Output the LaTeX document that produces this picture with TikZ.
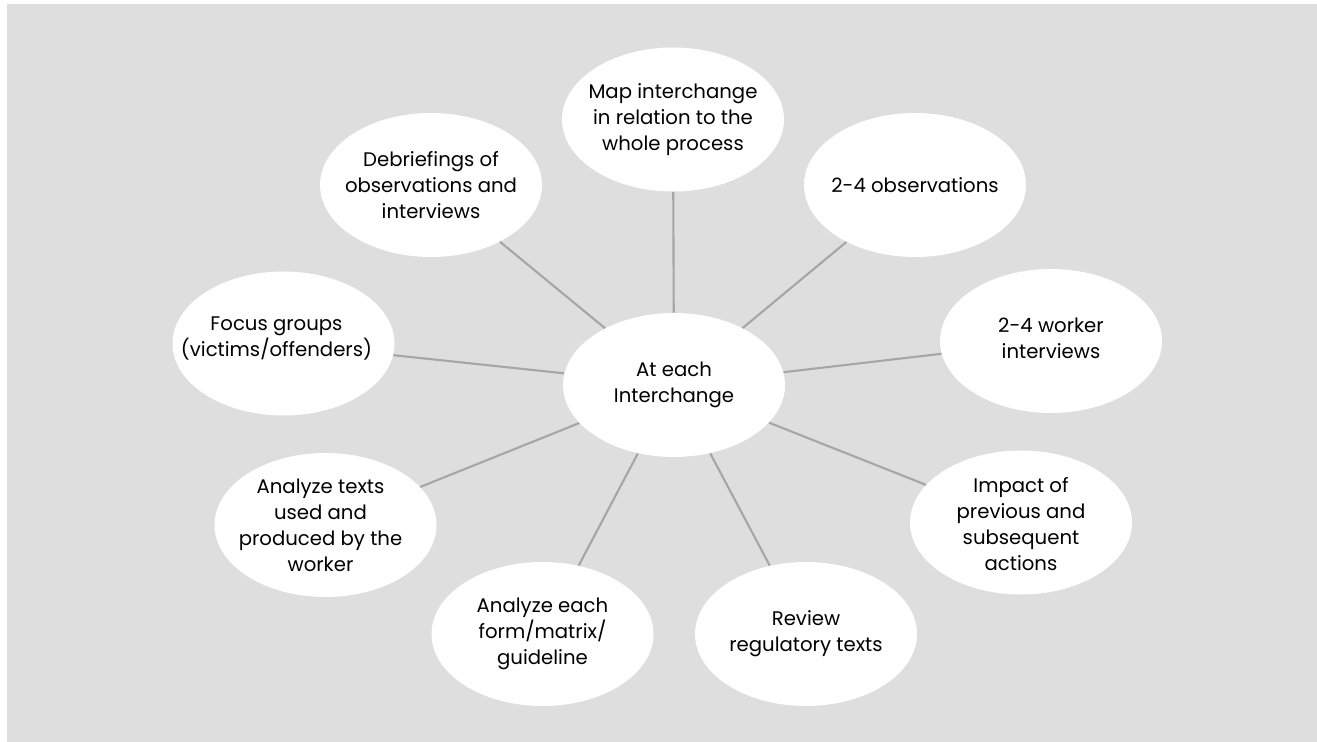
\documentclass[tikz,border=0pt]{standalone}
\usepackage{fontspec}
\setmainfont{Poppins}
\usetikzlibrary{shapes.geometric}
\definecolor{panelgray}{RGB}{222,222,222}
\definecolor{spokegray}{RGB}{166,166,166}
\tikzset{
  bubble/.style={ellipse,fill=white,minimum width=4.44cm,minimum height=2.88cm,inner sep=0pt},
  tag/.style={align=center,inner sep=0pt,font=\fontsize{11.2pt}{14.8pt}\selectfont},
  spoke/.style={draw=spokegray,line width=1.2pt}
}
\begin{document}
\begin{tikzpicture}
    \useasboundingbox (0,0) rectangle (26.34,-14.84);
    \fill[panelgray] (0.14,-0.08) rectangle (26.34,-14.84);

    \node[bubble,label={[tag]center:At each\\Interchange}] (hub) at (13.48,-7.70) {};
    \node[bubble,label={[tag]center:Map interchange\\in relation to the\\whole process}] (map) at (13.46,-2.39) {};
    \node[bubble,label={[tag]center:2-4 observations}] (obs) at (18.30,-3.70) {};
    \node[bubble,label={[tag,yshift=0.06cm]center:2-4 worker\\interviews}] (worker) at (21.02,-6.82) {};
    \node[bubble,label={[tag,yshift=-0.04cm]center:Impact of\\previous and\\subsequent\\actions}] (impact) at (20.42,-10.45) {};
    \node[bubble,label={[tag]center:Review\\regulatory texts}] (review) at (16.12,-12.68) {};
    \node[bubble,label={[tag]center:Analyze each\\form/matrix/\\guideline}] (form) at (10.85,-12.68) {};
    \node[bubble,label={[tag,xshift=-0.1cm]center:Analyze texts\\used and\\produced by the\\worker}] (texts) at (6.51,-10.50) {};
    \node[bubble,label={[tag,xshift=-0.14cm,yshift=0.1cm]center:Focus groups\\(victims/offenders)}] (focus) at (5.67,-6.87) {};
    \node[bubble,label={[tag]center:Debriefings of\\observations and\\interviews}] (debrief) at (8.62,-3.70) {};

    \foreach \n in {map,obs,worker,impact,review,form,texts,focus,debrief}
        \draw[spoke] (hub) -- (\n);
\end{tikzpicture}
\end{document}
